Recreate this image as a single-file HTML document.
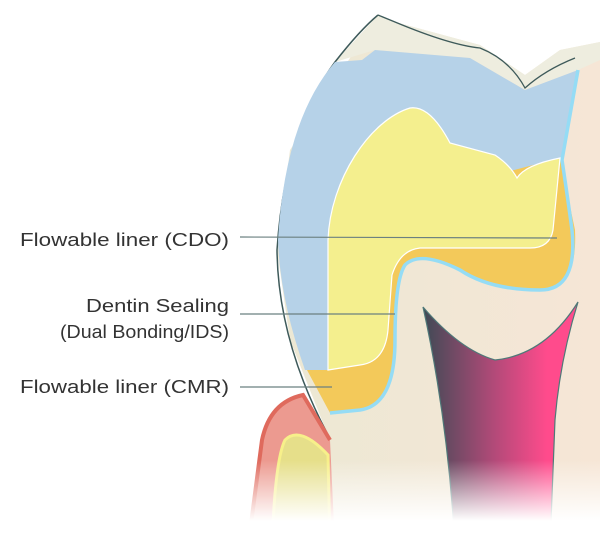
<!DOCTYPE html>
<html><head><meta charset="utf-8"><style>
html,body{margin:0;padding:0;background:#fff;width:600px;height:547px;overflow:hidden}
svg{display:block}
text{font-family:"Liberation Sans",sans-serif;font-size:18px;fill:#333}
</style></head><body>
<svg width="600" height="547" viewBox="0 0 600 547">
<defs>
<linearGradient id="pulp" x1="0" x2="1" y1="0" y2="0">
<stop offset="0" stop-color="#3f4a55"/><stop offset="0.45" stop-color="#b04a78"/><stop offset="0.8" stop-color="#ff4b8c"/><stop offset="1" stop-color="#ff4b8c"/></linearGradient>
<linearGradient id="fade" x1="0" x2="0" y1="0" y2="1">
<stop offset="0" stop-color="#fff" stop-opacity="0"/><stop offset="0.7" stop-color="#fff" stop-opacity="1"/></linearGradient>
<linearGradient id="body" x1="0" x2="1" y1="0" y2="0">
<stop offset="0" stop-color="#ece8d4"/><stop offset="1" stop-color="#f6e6d6"/></linearGradient>
</defs>
<path d="M378,15 L395,22 L480,45 L525,75 L560,50 L600,42 L600,547 L330,547 L327,433 L290,340 L277,250 L290,150 Z" fill="url(#body)"/>
<path d="M378,15 L395,22 L480,45 L525,75 L560,50 L600,42 L600,60 L578,70 L525,90 L470,58 L375,50 L335,62 Z" fill="#eeeddf"/>
<path d="M378,15 Q360,30 335,62 Q285,130 277,250 Q278,340 327,433" fill="none" stroke="#3e5a5a" stroke-width="1.5"/>
<path d="M378,15 L395,22 Q450,45 480,48 Q510,60 525,88 Q545,70 575,58" fill="none" stroke="#3e5a5a" stroke-width="1.3"/>
<path d="M330,440 L303,395 Q270,402 262,440 L248,547 L335,547 Z" fill="#ec9a90"/>
<path d="M330,440 L303,395 Q270,402 262,440 L248,547" fill="none" stroke="#df6a5d" stroke-width="4"/>
<path d="M328,455 Q300,425 285,440 Q275,460 272,547 L330,547 Z" fill="#e6df8a" stroke="#f7f08a" stroke-width="3"/>
<path d="M423,307 Q460,350 495,360 Q545,355 578,302 Q560,360 555,420 L550,547 L455,547 Q448,420 423,307 Z" fill="url(#pulp)" stroke="#4f7878" stroke-width="1.2"/>
<path d="M335,62 L362,60 L375,50 L470,58 L525,90 L578,70 L562,160 L400,200 L328,240 L328,370 L305,370 Q280,300 278,240 Q285,120 335,62 Z" fill="#b6d2e8"/>
<path d="M560,158 L575,230 Q578,290 540,290 Q490,290 460,270 Q420,250 405,265 Q395,280 395,340 Q395,405 360,410 L330,413 L307,370 L328,370 L328,240 L400,200 Z" fill="#f3c95a"/>
<path d="M578,70 L562,160 Q568,200 572,230 Q578,290 540,290 Q490,290 460,270 Q420,250 405,265 Q395,280 395,340 Q395,405 360,410 L330,413" fill="none" stroke="#95dcf5" stroke-width="3.5"/>
<path d="M328,240 C330,180 370,120 410,108 Q430,105 450,143 L495,155 Q510,165 517,178 Q525,165 560,158 L553,230 Q550,248 530,248 L420,248 Q400,250 392,275 L388,330 Q385,362 360,365 L328,370 Z" fill="#f4ef8e" stroke="#fff" stroke-width="1.2"/>
<line x1="240" y1="237" x2="557" y2="238" stroke="#6b8080" stroke-width="1.2"/>
<line x1="240" y1="314" x2="395" y2="314" stroke="#6b8080" stroke-width="1.2"/>
<line x1="240" y1="387" x2="332" y2="387" stroke="#6b8080" stroke-width="1.2"/>
<text x="20" y="246" textLength="209" lengthAdjust="spacingAndGlyphs">Flowable liner (CDO)</text>
<text x="86" y="312" textLength="143" lengthAdjust="spacingAndGlyphs">Dentin Sealing</text>
<text x="60" y="338" textLength="169" lengthAdjust="spacingAndGlyphs">(Dual Bonding/IDS)</text>
<text x="20" y="393" textLength="209" lengthAdjust="spacingAndGlyphs">Flowable liner (CMR)</text>
<rect x="0" y="460" width="600" height="87" fill="url(#fade)"/>
</svg>
</body></html>
